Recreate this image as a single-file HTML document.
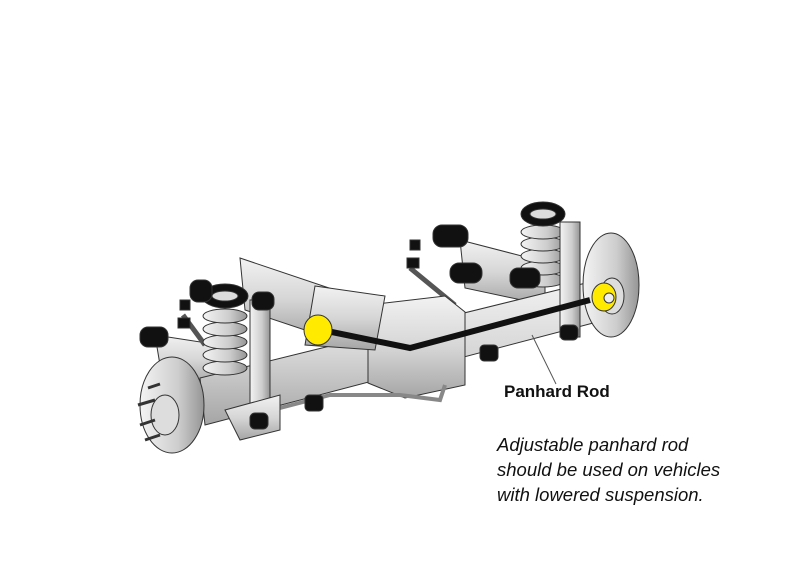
<!DOCTYPE html>
<html><head><style>
body{margin:0;background:#fff;width:804px;height:573px;overflow:hidden;position:relative;font-family:"Liberation Sans",sans-serif}
.t1{position:absolute;left:504px;top:382px;font-weight:bold;font-size:17px;color:#111}
.t2{position:absolute;left:497px;top:432px;font-style:italic;font-size:18.5px;line-height:25px;color:#111}
</style></head><body>
<svg width="804" height="573" style="position:absolute;left:0;top:0">
<defs>
<linearGradient id="g" x1="0" y1="0" x2="0" y2="1"><stop offset="0" stop-color="#f2f2f2"/><stop offset="0.5" stop-color="#d6d6d6"/><stop offset="1" stop-color="#a5a5a5"/></linearGradient>
<linearGradient id="gh" x1="0" y1="0" x2="1" y2="0"><stop offset="0" stop-color="#f4f4f4"/><stop offset="0.6" stop-color="#cdcdcd"/><stop offset="1" stop-color="#959595"/></linearGradient>
</defs>
<g stroke="#333" stroke-width="1">
<polygon points="460,240 545,262 545,305 465,288" fill="url(#g)"/>
<polygon points="240,258 335,290 335,340 245,310" fill="url(#g)"/>
<polygon points="155,335 220,345 215,385 160,365" fill="url(#g)"/>
<line x1="410" y1="268" x2="455" y2="305" stroke="#555" stroke-width="5"/>
<line x1="183" y1="315" x2="205" y2="345" stroke="#555" stroke-width="5"/>
<polygon points="200,378 590,282 597,322 205,425" fill="url(#g)"/>
<polygon points="368,305 445,296 465,312 465,385 405,398 368,383" fill="url(#g)"/>
<polygon points="315,286 385,296 375,350 305,345" fill="url(#g)"/>
<polyline points="280,408 330,395 400,395 440,400 445,385" fill="none" stroke="#888" stroke-width="4"/>
<g fill="url(#gh)">
<ellipse cx="543" cy="280" rx="22" ry="7"/><ellipse cx="543" cy="268" rx="22" ry="7"/><ellipse cx="543" cy="256" rx="22" ry="7"/><ellipse cx="543" cy="244" rx="22" ry="7"/><ellipse cx="543" cy="232" rx="22" ry="7"/>
</g>
<ellipse cx="543" cy="214" rx="22" ry="12" fill="#111"/><ellipse cx="543" cy="214" rx="13" ry="5" fill="#ddd"/>
<rect x="560" y="222" width="20" height="115" fill="url(#gh)"/>
<ellipse cx="611" cy="285" rx="28" ry="52" fill="url(#gh)"/>
<ellipse cx="612" cy="296" rx="12" ry="18" fill="#ddd"/>
<g fill="url(#gh)">
<ellipse cx="225" cy="368" rx="22" ry="7"/><ellipse cx="225" cy="355" rx="22" ry="7"/><ellipse cx="225" cy="342" rx="22" ry="7"/><ellipse cx="225" cy="329" rx="22" ry="7"/><ellipse cx="225" cy="316" rx="22" ry="7"/>
</g>
<ellipse cx="225" cy="296" rx="23" ry="12" fill="#111"/><ellipse cx="225" cy="296" rx="13" ry="5" fill="#ddd"/>
<rect x="250" y="300" width="20" height="122" fill="url(#gh)"/>
<polygon points="225,410 280,395 280,430 240,440" fill="url(#g)"/>
<ellipse cx="172" cy="405" rx="32" ry="48" fill="url(#gh)"/>
<ellipse cx="165" cy="415" rx="14" ry="20" fill="#ddd"/>
<line x1="138" y1="405" x2="155" y2="400" stroke-width="3"/><line x1="140" y1="425" x2="155" y2="420" stroke-width="3"/><line x1="145" y1="440" x2="160" y2="435" stroke-width="3"/><line x1="148" y1="388" x2="160" y2="384" stroke-width="3"/>
<g fill="#111">
<rect x="140" y="327" width="28" height="20" rx="8"/><rect x="252" y="292" width="22" height="18" rx="7"/><rect x="190" y="280" width="22" height="22" rx="8"/>
<rect x="433" y="225" width="35" height="22" rx="9"/><rect x="450" y="263" width="32" height="20" rx="9"/><rect x="510" y="268" width="30" height="20" rx="8"/>
<rect x="250" y="413" width="18" height="16" rx="5"/><rect x="560" y="325" width="18" height="15" rx="5"/>
<rect x="480" y="345" width="18" height="16" rx="4"/><rect x="305" y="395" width="18" height="16" rx="4"/>
<rect x="410" y="240" width="10" height="10"/><rect x="407" y="258" width="12" height="10"/><rect x="180" y="300" width="10" height="10"/><rect x="178" y="318" width="12" height="10"/>
</g>
<polyline points="322,330 410,348 590,300" fill="none" stroke="#111" stroke-width="6"/>
<line x1="532" y1="335" x2="556" y2="384" stroke="#555" stroke-width="1"/>
<ellipse cx="318" cy="330" rx="14" ry="15" fill="#ffea00"/>
<ellipse cx="604" cy="297" rx="12" ry="14" fill="#ffea00"/>
<circle cx="609" cy="298" r="5" fill="#eee"/>
</g>
</svg>
<div class="t1">Panhard Rod</div>
<div class="t2">Adjustable panhard rod<br>should be used on vehicles<br>with lowered suspension.</div>
</body></html>
